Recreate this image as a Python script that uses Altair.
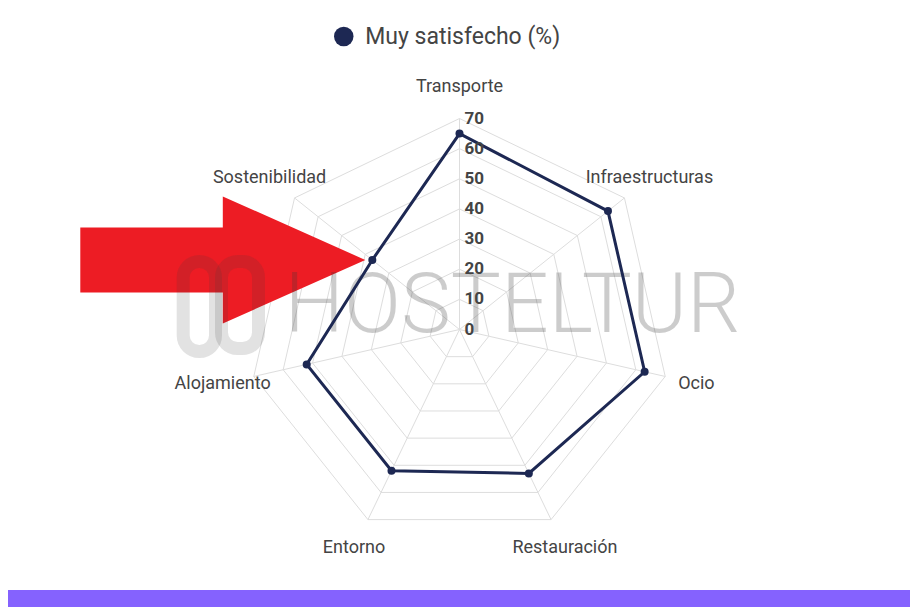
import math
import altair as alt
import numpy as np
import pandas as pd

# ---------------- data ----------------
categorias = ["Transporte", "Infraestructuras", "Ocio", "Restauración",
              "Entorno", "Alojamiento", "Sostenibilidad"]
valores = [65, 63, 63, 53, 52, 52, 37]
ticks = [0, 10, 20, 30, 40, 50, 60, 70]
serie = "Muy satisfecho (%)"
marca = "HOSTELTUR"
destacado = "Sostenibilidad"

# ---------------- layout constants ----------------
W, H = 902, 600
CX, CY = 451.5, 321.5          # centre of the radar in plot pixels
RMAX = ticks[-1]
U = 211.0 / RMAX               # pixels per unit
XMIN, XMAX = -CX / U, (W - CX) / U
YMIN, YMAX = -(H - CY) / U, CY / U
N = len(categorias)
LABEL_R = 80.6

NAVY = "#1d2853"
GRID = "#dddddd"
TXT = "#444444"
RED = "#ED1C24"
PURPLE = "#8562FE"
FONT = "Roboto"

xs = alt.Scale(domain=[XMIN, XMAX], nice=False, zero=False)
ys = alt.Scale(domain=[YMIN, YMAX], nice=False, zero=False)

ANG = f"datum.idx * 2 * PI / {N}"

# data polygon (closed)
df_data = pd.DataFrame({
    "cat": categorias + [categorias[0]],
    "idx": list(range(N)) + [N],
    "r": valores + [valores[0]],
    "serie": serie,
})

# grid polygons
df_grid = pd.DataFrame(
    [(lvl, i) for lvl in ticks[1:] for i in range(N + 1)], columns=["lvl", "idx"]
)
df_spokes = pd.DataFrame({"idx": list(range(N)), "r": RMAX, "z": 0.0})
df_ticks = pd.DataFrame({"t": ticks, "lab": [str(t) for t in ticks], "z": 0.0})
df_labels = pd.DataFrame({"cat": categorias, "idx": list(range(N)), "r": LABEL_R})

# arrow pointing at the highlighted category's value (custom symbol path)
ARROW_LEN = 285.0   # px
k = categorias.index(destacado)
a = k * 2 * math.pi / N
tip_x = valores[k] * math.sin(a) - 7 / U
tip_y = valores[k] * math.cos(a)
df_arrow = pd.DataFrame({"ax": [tip_x - (ARROW_LEN / 2) / U], "ay": [tip_y]})
ARROW_PATH = ("M -1 -0.228 L 0 -0.228 L 0 -0.446 L 1 0 L 0 0.446 "
              "L 0 0.228 L -1 0.228 Z")

base_xy = dict(x=alt.X("x:Q", scale=xs, axis=None), y=alt.Y("y:Q", scale=ys, axis=None))

grid = alt.Chart(df_grid).transform_calculate(
    ang=ANG, x="datum.lvl * sin(datum.ang)", y="datum.lvl * cos(datum.ang)"
).mark_line(color=GRID, strokeWidth=1).encode(
    **base_xy, detail="lvl:N", order="idx:Q"
)

spokes = alt.Chart(df_spokes).transform_calculate(
    ang=ANG, x2="datum.r * sin(datum.ang)", y2="datum.r * cos(datum.ang)"
).mark_rule(color=GRID, strokeWidth=1).encode(
    x=alt.X("z:Q", scale=xs, axis=None), y=alt.Y("z:Q", scale=ys, axis=None),
    x2="x2:Q", y2="y2:Q"
)

arrow = alt.Chart(df_arrow).mark_point(
    shape=ARROW_PATH, filled=True, color=RED, opacity=1, strokeWidth=0,
    size=ARROW_LEN ** 2
).encode(
    x=alt.X("ax:Q", scale=xs, axis=None),
    y=alt.Y("ay:Q", scale=ys, axis=None),
)

wm_text = alt.Chart(pd.DataFrame({"t": [marca]})).mark_text(
    font=FONT, fontSize=84, fontWeight=300, color="#3a3a3a", opacity=0.25,
    align="center", baseline="alphabetic"
).encode(x=alt.value(504.5), y=alt.value(324), text="t:N")

wm_logo1 = alt.Chart(pd.DataFrame({"a": [0]})).mark_rect(
    filled=False, stroke="#3a3a3a", strokeWidth=13, strokeOpacity=0.15, cornerRadius=16
).encode(x=alt.value(175.2), x2=alt.value(207.5), y=alt.value(253.5), y2=alt.value(343.5))
wm_logo2 = alt.Chart(pd.DataFrame({"a": [0]})).mark_rect(
    filled=False, stroke="#3a3a3a", strokeWidth=13, strokeOpacity=0.15, cornerRadius=16
).encode(x=alt.value(213.5), x2=alt.value(250.5), y=alt.value(253.5), y2=alt.value(340.5))

line = alt.Chart(df_data).transform_calculate(
    ang=ANG, x="datum.r * sin(datum.ang)", y="datum.r * cos(datum.ang)"
).mark_line(color=NAVY, strokeWidth=3).encode(**base_xy, order="idx:Q")

points = alt.Chart(df_data).transform_filter(f"datum.idx < {N}").transform_calculate(
    ang=ANG, x="datum.r * sin(datum.ang)", y="datum.r * cos(datum.ang)"
).mark_circle(size=64, opacity=1).encode(
    **base_xy,
    color=alt.Color(
        "serie:N",
        scale=alt.Scale(range=[NAVY]),
        legend=alt.Legend(
            title=None, orient="none", legendX=324.25, legendY=17, padding=0,
            symbolType="circle", symbolSize=380, symbolStrokeWidth=0,
            labelFont=FONT, labelFontSize=23, labelColor=TXT, labelOffset=10,
            labelLimit=0,
        ),
    ),
)

tick_text = alt.Chart(df_ticks).mark_text(
    font=FONT, fontSize=17, fontWeight="bold", color=TXT, align="left",
    baseline="middle", dx=5
).encode(
    x=alt.X("z:Q", scale=xs, axis=None), y=alt.Y("t:Q", scale=ys, axis=None), text="lab:N"
)

cat_text = alt.Chart(df_labels).transform_calculate(
    ang=ANG, x="datum.r * sin(datum.ang)", y="datum.r * cos(datum.ang)"
).mark_text(
    font=FONT, fontSize=18, color=TXT, align="center", baseline="middle"
).encode(**base_xy, text="cat:N")

bar = alt.Chart(pd.DataFrame({"a": [0]})).mark_rect(color=PURPLE).encode(
    x=alt.value(0), x2=alt.value(W), y=alt.value(582), y2=alt.value(H)
)

chart = alt.layer(
    grid, spokes, arrow, wm_logo1, wm_logo2, wm_text, line, points, tick_text, cat_text, bar
).properties(
    width=W, height=H, padding=0, autosize=alt.AutoSizeParams(type="none")
).configure_view(stroke=None)

chart.save("out.html", embed_options={"renderer": "svg", "actions": False})
